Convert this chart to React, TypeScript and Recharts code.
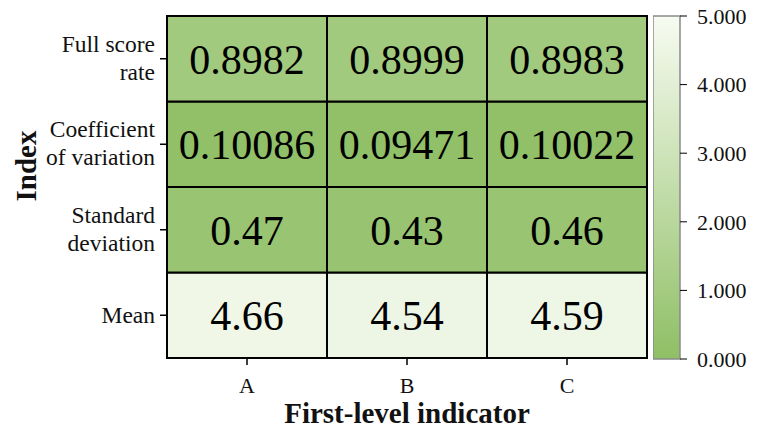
import { BarChart, Bar, XAxis, YAxis, Cell, LabelList, Label } from 'recharts';

const columns = ['A', 'B', 'C'];
const fullScoreRate = [0.8982, 0.8999, 0.8983];
const coefVariation = [0.10086, 0.09471, 0.10022];
const stdDeviation = [0.47, 0.43, 0.46];
const meanScore = [4.66, 4.54, 4.59];

// bottom to top
const rowKeys = ['mean', 'sd', 'cv', 'fsr'];
const rowValues = [meanScore, stdDeviation, coefVariation, fullScoreRate];
const rowDigits = [2, 2, 5, 4];
const rowLabels = [['Mean'], ['Standard', 'deviation'], ['Coefficient', 'of variation'], ['Full score', 'rate']];
const rowTicks = [0.5, 1.5, 2.5, 3.5];

const colorTicks = [0, 1, 2, 3, 4, 5];
const colorMax = 5;
const lowColor = [143, 191, 101];
const highColor = [247, 251, 241];

const FONT = "'Liberation Serif', 'Times New Roman', serif";

const colorFor = (v: number) => {
    const t = Math.max(0, Math.min(1, v / colorMax));
    const c = lowColor.map((lo, i) => Math.round(lo + (highColor[i] - lo) * t));
    return `rgb(${c[0]},${c[1]},${c[2]})`;
};

const data = columns.map((col) => {
    const row: Record<string, any> = { col };
    rowKeys.forEach((k) => (row[k] = 1));
    return row;
});

const YTick = (props: any) => {
    const { x, y, payload } = props;
    const idx = rowTicks.indexOf(payload.value);
    const lines = rowLabels[idx] || [];
    const baseY = lines.length === 1 ? y + 8 : y - 7;
    return (
        <text x={x} y={baseY} textAnchor="end" style={{ fontFamily: FONT, fontSize: 23.5 }} fill="#111">
            {lines.map((l, i) => (
                <tspan key={i} x={x} y={baseY + i * 28}>{l}</tspan>
            ))}
        </text>
    );
};

const cellLabel = (rowIdx: number) => (props: any) => {
    const { x, y, width, height, index } = props;
    const v = rowValues[rowIdx][index];
    return (
        <text
            x={x + width / 2}
            y={y + height / 2 + 15}
            textAnchor="middle"
            style={{ fontFamily: FONT, fontSize: 42 }}
            fill="#000"
        >
            {v.toFixed(rowDigits[rowIdx])}
        </text>
    );
};

export default function App() {
    return (
        <div style={{ position: 'absolute', left: 0, top: 0, width: 759, height: 430, background: '#fff', fontFamily: FONT }}>
            <div style={{ position: 'absolute', left: 0, top: 0 }}>
                <BarChart
                    width={759}
                    height={430}
                    data={data}
                    margin={{ top: 16, right: 112, bottom: 0, left: 27 }}
                    barCategoryGap={0}
                    barGap={0}
                >
                    <XAxis
                        dataKey="col"
                        height={72}
                        axisLine={false}
                        tickLine={{ stroke: '#000', strokeWidth: 1.5 }}
                        tickSize={7}
                        tickMargin={12}
                        tick={{ style: { fontFamily: FONT, fontSize: 22 }, fill: '#111' }}
                    >
                        <Label
                            content={(p: any) => {
                                const vb = p.viewBox;
                                return (
                                    <text
                                        x={vb.x + vb.width / 2}
                                        y={423}
                                        textAnchor="middle"
                                        style={{ fontFamily: FONT, fontSize: 29, fontWeight: 'bold' }}
                                        fill="#111"
                                    >
                                        First-level indicator
                                    </text>
                                );
                            }}
                        />
                    </XAxis>
                    <YAxis
                        type="number"
                        domain={[0, 4]}
                        ticks={rowTicks}
                        width={140}
                        axisLine={false}
                        tickLine={{ stroke: '#000', strokeWidth: 1.5 }}
                        tickSize={7}
                        tickMargin={5}
                        tick={<YTick />}
                        interval={0}
                    >
                        <Label
                            content={(p: any) => {
                                const vb = p.viewBox;
                                const cx = vb.x + 9;
                                const cy = 166;
                                return (
                                    <text
                                        x={cx}
                                        y={cy}
                                        transform={`rotate(-90 ${cx} ${cy})`}
                                        textAnchor="middle"
                                        style={{ fontFamily: FONT, fontSize: 29, fontWeight: 'bold' }}
                                        fill="#111"
                                    >
                                        Index
                                    </text>
                                );
                            }}
                        />
                    </YAxis>
                    {rowKeys.map((k, r) => (
                        <Bar key={k} dataKey={k} stackId="s" stroke="#000" strokeWidth={2} isAnimationActive={false}>
                            {columns.map((c, i) => (
                                <Cell key={c} fill={colorFor(rowValues[r][i])} />
                            ))}
                            <LabelList dataKey={k} content={cellLabel(r)} />
                        </Bar>
                    ))}
                </BarChart>
            </div>
            <div style={{ position: 'absolute', left: 653, top: 0 }}>
                <BarChart
                    width={106}
                    height={430}
                    data={[{ name: 'scale', v: colorMax }]}
                    margin={{ top: 16, right: 0, bottom: 71, left: 0 }}
                    barCategoryGap={0}
                >
                    <defs>
                        <linearGradient id="cbGrad" x1="0" y1="0" x2="0" y2="1">
                            <stop offset="0%" stopColor={colorFor(colorMax)} />
                            <stop offset="100%" stopColor={colorFor(0)} />
                        </linearGradient>
                    </defs>
                    <XAxis dataKey="name" hide />
                    <YAxis
                        orientation="right"
                        type="number"
                        domain={[0, colorMax]}
                        ticks={colorTicks}
                        interval={0}
                        width={79}
                        axisLine={false}
                        tickLine={{ stroke: '#000', strokeWidth: 1 }}
                        tickSize={7}
                        tickMargin={10}
                        tickFormatter={(v: number) => v.toFixed(3)}
                        tick={{ style: { fontFamily: FONT, fontSize: 22 }, fill: '#111' }}
                    />
                    <Bar dataKey="v" fill="url(#cbGrad)" stroke="#8a8a8a" strokeWidth={1.5} isAnimationActive={false} />
                </BarChart>
            </div>
        </div>
    );
}
